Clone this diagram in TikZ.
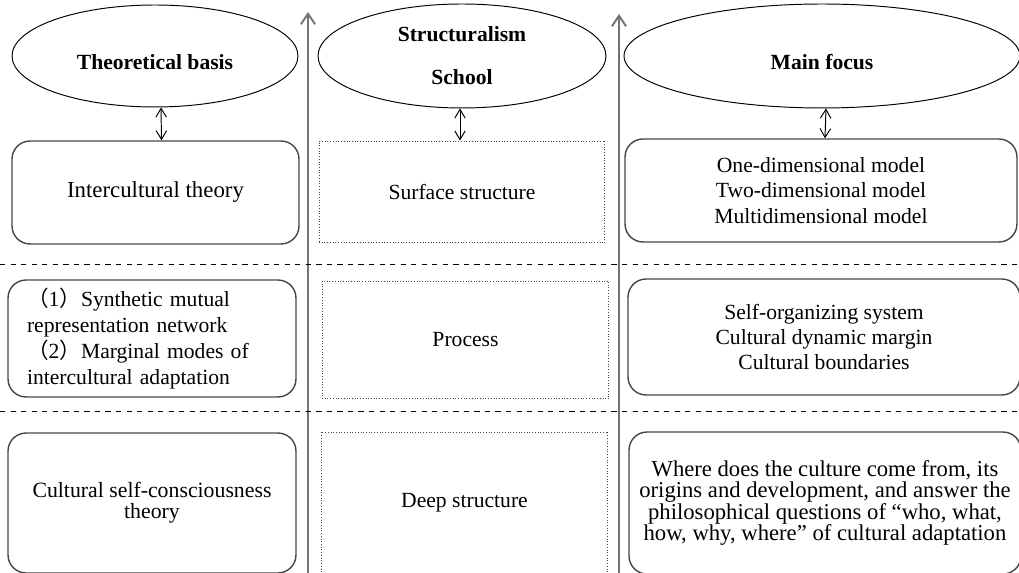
\documentclass[tikz,border=0pt]{standalone}
\usepackage{fontspec}
\setmainfont{Liberation Serif}
\newfontfamily\cjk{Noto Sans CJK SC}
\usetikzlibrary{arrows.meta,shapes.geometric}
\definecolor{framegray}{RGB}{70,70,70}
\definecolor{axisgray}{RGB}{115,115,115}
\newcommand\apretar{\setlength{\lineskiplimit}{-6pt}}
\tikzset{
  titulo/.style={
    ellipse,
    draw=black,
    line width=.55pt,
    align=center,
    inner sep=0pt,
    font=\fontsize{12.3}{24.5}\selectfont\bfseries
  },
  bajo/.style={
    text height=15pt,
    text depth=0pt
  },
  caja/.style={
    rounded corners=.36cm,
    draw=framegray,
    line width=.8pt,
    align=center,
    inner sep=0pt,
    font=\fontsize{12.3}{14.5}\selectfont
  },
  nivel/.style={
    draw=framegray,
    densely dotted,
    line width=.55pt,
    align=center,
    inner sep=0pt,
    font=\fontsize{12.3}{14.5}\selectfont
  },
  apretado/.style={
    font=\fontsize{#1}{12}\selectfont\apretar
  },
  enlace/.style={
    {Straight Barb[length=5pt,width=6pt]}-{Straight Barb[length=5pt,width=6pt]},
    line width=.55pt
  },
  eje/.style={
    -{Straight Barb[length=6pt,width=8pt]},
    axisgray,
    line width=1.1pt
  },
  separador/.style={
    dashed,
    line width=.55pt
  }
}

\begin{document}
\begin{tikzpicture}[x=.02cm,y=-.02cm]
\useasboundingbox (0,0) rectangle (1019,573);
% titles
\node[titulo, bajo, minimum width=5.72cm, minimum height=2.04cm] (base) at (155,56) {Theoretical basis};
\node[titulo, minimum width=5.76cm, minimum height=2.08cm] (escuela) at (462,56) {Structuralism\\School};
\node[titulo, bajo, minimum width=7.92cm, minimum height=2.08cm] (foco) at (822,56) {Main focus};
% first row
\node[caja, font=\fontsize{13}{14.5}\selectfont, minimum width=5.74cm, minimum height=2.06cm] (base1) at (155.5,192.5) {Intercultural theory};
\node[nivel, minimum width=5.72cm, minimum height=2.04cm] (escuela1) at (462,192) {Surface structure};
\node[caja, minimum width=7.84cm, minimum height=2.06cm] (foco1) at (821,190.5) {One-dimensional model\\Two-dimensional model\\Multidimensional model};
% second row
\node[caja, font=\fontsize{12.3}{14.8}\selectfont, align=left, text width=5cm, minimum width=5.76cm, minimum height=2.34cm] (base2) at (152,338.5)
  {{\cjk （}1{\cjk ）}Synthetic mutual\\representation network\\{\cjk （}2{\cjk ）}Marginal modes of\\intercultural adaptation};
\node[nivel, minimum width=5.74cm, minimum height=2.36cm] (escuela2) at (465.5,340) {Process};
\node[caja, minimum width=7.84cm, minimum height=2.32cm] (foco2) at (824,337) {Self-organizing system\\Cultural dynamic margin\\Cultural boundaries};
% third row
\node[caja, apretado=12.4, minimum width=5.76cm, minimum height=2.8cm] (base3) at (152,503) {Cultural self-consciousness\\theory};
\node[nivel, minimum width=5.74cm, minimum height=2.84cm] (escuela3) at (464.5,503) {Deep structure};
\node[caja, apretado=12.9, minimum width=7.84cm, minimum height=2.84cm] (foco3) at (825,503)
  {Where does the culture come from, its\\origins and development, and answer the\\philosophical questions of ``who, what,\\how, why, where'' of cultural adaptation};
% links
\draw[enlace] ([xshift=.12cm]base.south) -- ([xshift=.12cm]base1.north);
\draw[enlace] ([xshift=-.04cm]escuela.south) -- ([xshift=-.04cm]escuela1.north);
\draw[enlace] ([xshift=.08cm]foco.south) -- ([xshift=.08cm]foco1.north);
% axes and separators
\coordinate (ejeA0) at (308,575);
\coordinate (ejeA1) at (308,12);
\coordinate (ejeB0) at (619,575);
\coordinate (ejeB1) at (619,14);
\draw[eje] (ejeA0) -- (ejeA1);
\draw[eje] (ejeB0) -- (ejeB1);
\draw[separador] (0,264) -- (1019,264);
\draw[separador] (0,411) -- (1019,411);
\end{tikzpicture}
\end{document}
